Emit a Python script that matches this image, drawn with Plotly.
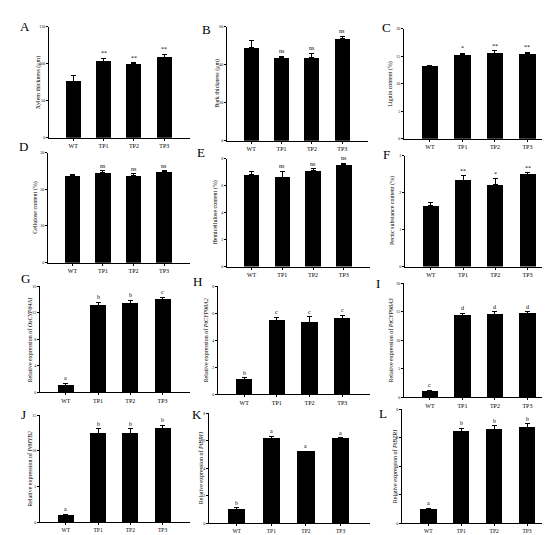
import plotly.graph_objects as go

# data
categories = ["WT", "TP1", "TP2", "TP3"]

xylem = [76.6, 103.4, 99.9, 108.8]
xylem_err = [7.1, 4.1, 1.7, 4.0]
bark = [49.1, 43.9, 43.9, 53.8]
bark_err = [3.8, 0.7, 2.1, 1.2]
lignin = [13.2, 15.3, 15.6, 15.5]
lignin_err = [0.1, 0.25, 0.4, 0.2]
cellulose = [23.7, 24.5, 23.8, 24.9]
cellulose_err = [0.3, 0.5, 0.4, 0.2]
hemicellulose = [6.83, 6.63, 7.14, 7.53]
hemicellulose_err = [0.24, 0.42, 0.1, 0.13]
pectic = [1.66, 2.34, 2.22, 2.50]
pectic_err = [0.07, 0.12, 0.155, 0.04]
expr_g = [1.05, 13.1, 13.4, 14.05]
expr_g_err = [0.35, 0.5, 0.5, 0.35]
expr_h = [1.08, 5.48, 5.36, 5.63]
expr_h_err = [0.14, 0.24, 0.39, 0.24]
expr_i = [1.1, 14.3, 14.6, 14.65]
expr_i_err = [0.18, 0.47, 0.4, 0.41]
expr_j = [0.96, 12.45, 12.45, 13.2]
expr_j_err = [0.18, 0.65, 0.65, 0.4]
expr_k = [1.03, 6.16, 5.2, 6.18]
expr_k_err = [0.09, 0.18, 0.05, 0.05]
expr_l = [0.97, 6.44, 6.58, 6.73]
expr_l_err = [0.07, 0.23, 0.27, 0.25]

sig_a = ["", "**", "**", "**"]
sig_b = ["", "ns", "ns", "ns"]
sig_c = ["", "*", "**", "**"]
sig_d = ["", "ns", "ns", "ns"]
sig_e = ["", "ns", "ns", "ns"]
sig_f = ["", "**", "*", "**"]
sig_g = ["a", "b", "b", "c"]
sig_h = ["b", "c", "c", "c"]
sig_i = ["c", "d", "d", "d"]
sig_j = ["a", "b", "b", "b"]
sig_k = ["b", "a", "a", "a"]
sig_l = ["a", "b", "b", "b"]

W, H = 550, 535
FONT = "Liberation Serif"

# letter, values, errors, labels, y title, y max, dtick, frame (x0, x1, ytop, ybot), title x, letter pos
panels = [
    ("A", xylem, xylem_err, sig_a, "Xylem thickness (μm)", 150, 50, (41, 182, 16, 128), 30, (17, 16)),
    ("B", bark, bark_err, sig_b, "Bark thickness (μm)", 60, 20, (219, 360, 16, 131), 210, (198, 19)),
    ("C", lignin, lignin_err, sig_c, "Lignin content (%)", 20, 5, (396, 547, 18, 129), 383, (378, 17)),
    ("D", cellulose, cellulose_err, sig_d, "Cellulose content (%)", 30, 10, (40, 182, 143, 254), 28, (15, 137)),
    ("E", hemicellulose, hemicellulose_err, sig_e, "Hemicellulose content (%)", 8, 2, (219, 362, 149, 258), 208, (193, 143)),
    ("F", pectic, pectic_err, sig_f, "Pectic substance content (%)", 3, 1, (397, 547, 146, 258), 384, (378, 145)),
    ("G", expr_g, expr_g_err, sig_g, "Relative expression of <i>OsCYP84A1</i>", 16, 4, (32, 182, 278, 385), 22, (17, 270)),
    ("H", expr_h, expr_h_err, sig_h, "Relative expression of <i>PtCYP98A2</i>", 8, 2, (210, 362, 278, 387), 198, (189, 273)),
    ("I", expr_i, expr_i_err, sig_i, "Relative expression of <i>PtCYP98A3</i>", 20, 5, (396, 547, 275, 390), 383, (370, 275)),
    ("J", expr_j, expr_j_err, sig_j, "Relative expression of <i>PtMYB2</i>", 15, 5, (32, 182, 408, 516), 22, (15, 407)),
    ("K", expr_k, expr_k_err, sig_k, "Relative expression of <i>PtBRI1</i>", 8, 2, (201, 362, 406, 517), 193, (189, 407)),
    ("L", expr_l, expr_l_err, sig_l, "Relative expression of <i>PtBZR1</i>", 8, 2, (394, 547, 402, 517), 387, (375, 406)),
]

fig = go.Figure()
annotations = []
layout = {}

for n, (letter, vals, errs, sigs, ytitle, ymax, dtick, frame, tx, lpos) in enumerate(panels, start=1):
    sfx = "" if n == 1 else str(n)
    x0, x1, yt, yb = frame
    fig.add_trace(go.Bar(
        x=list(range(4)), y=vals,
        width=0.5,
        marker=dict(color="black", line=dict(width=0)),
        error_y=dict(type="data", array=errs, arrayminus=[0] * 4, symmetric=False,
                     color="black", thickness=1, width=2.5),
        xaxis="x" + sfx, yaxis="y" + sfx, showlegend=False,
    ))
    layout["xaxis" + sfx] = dict(
        domain=[x0 / W, x1 / W], anchor="y" + sfx,
        range=[-0.8, 3.85], tickvals=list(range(4)), ticktext=categories,
        showline=True, linecolor="black", linewidth=1, ticks="outside", ticklen=2,
        tickcolor="black", showgrid=False, zeroline=False,
        tickfont=dict(family=FONT, size=6 if n <= 9 else 5.5, color="black"),
    )
    layout["yaxis" + sfx] = dict(
        domain=[1 - yb / H, 1 - yt / H], anchor="x" + sfx,
        range=[0, ymax], dtick=dtick, tick0=0,
        showline=True, linecolor="black", linewidth=1, ticks="outside", ticklen=2,
        tickcolor="black", showgrid=False, zeroline=False,
        tickfont=dict(family=FONT, size=4, color="black"),
    )
    # y title
    annotations.append(dict(
        x=tx / W, y=1 - (yt + yb) / 2 / H, xref="paper", yref="paper",
        text=ytitle, textangle=-90, showarrow=False,
        font=dict(family=FONT, size=6, color="black"),
        xanchor="center", yanchor="middle",
    ))
    # panel letter
    annotations.append(dict(
        x=lpos[0] / W, y=1 - lpos[1] / H, xref="paper", yref="paper",
        text=letter, showarrow=False,
        font=dict(family=FONT, size=13, color="black"),
        xanchor="center", yanchor="middle",
    ))
    # significance labels
    for i, s in enumerate(sigs):
        if s:
            annotations.append(dict(
                x=i, y=vals[i] + errs[i], xref="x" + sfx, yref="y" + sfx,
                text=s, showarrow=False, yshift=5,
                font=dict(family=FONT, size=6, color="black"),
                xanchor="center", yanchor="middle",
            ))

fig.update_layout(
    width=W, height=H,
    margin=dict(l=0, r=0, t=0, b=0),
    paper_bgcolor="white", plot_bgcolor="white",
    annotations=annotations,
    bargap=0,
    **layout,
)

fig.write_html("out.html")
